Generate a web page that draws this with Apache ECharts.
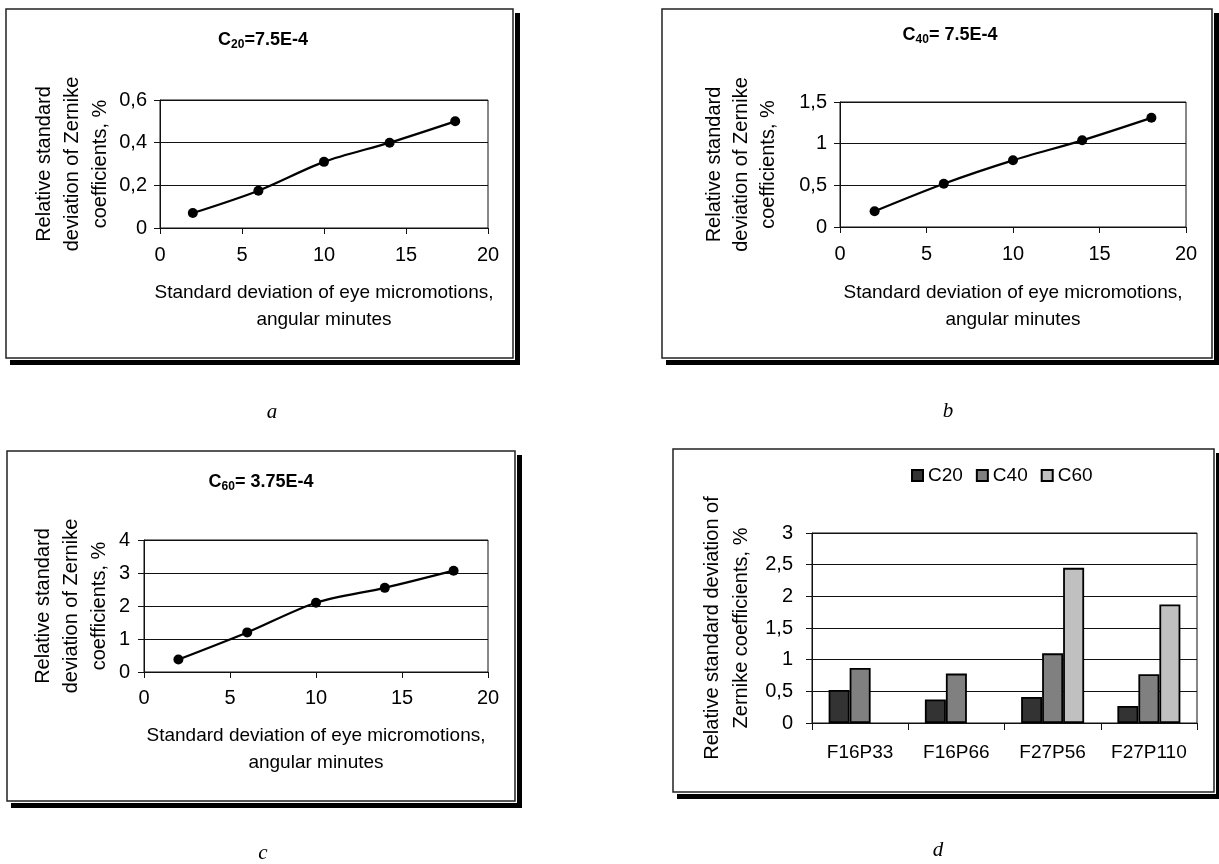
<!DOCTYPE html>
<html>
<head>
<meta charset="utf-8">
<script src="https://cdn.jsdelivr.net/npm/echarts@6/dist/echarts.min.js"></script>
<style>
  html, body { margin: 0; padding: 0; background: #fff; }
  #chart { width: 1219px; height: 864px; }
</style>
</head>
<body>
<div id="chart"></div>
<script>
// std of eye micromotions, angular minutes
var micromotions = [2, 6, 10, 14, 18];
// relative std of Zernike coefficients, %
var c20Dev = [0.07, 0.175, 0.31, 0.40, 0.50];
var c40Dev = [0.19, 0.52, 0.80, 1.04, 1.31];
var c60Dev = [0.38, 1.20, 2.10, 2.55, 3.07];

// panel d
var configs = ['F16P33', 'F16P66', 'F27P56', 'F27P110'];
var barC20 = [0.52, 0.37, 0.41, 0.27];
var barC40 = [0.87, 0.78, 1.10, 0.77];
var barC60 = ['-', '-', 2.45, 1.87];

var FONT = '"Liberation Sans", Arial, sans-serif';
var INK = '#111';

function comma(v) {
  return String(+v.toFixed(2)).replace('.', ',');
}

function pairs(xs, ys) {
  return xs.map(function (x, i) { return [x, ys[i]]; });
}

// framed panel with the heavy drop shadow
function frame(x, y, w, h) {
  return [
    { type: 'rect', z: -3, shape: { x: x + 4, y: y + 4, width: w + 3, height: h + 3 }, style: { fill: '#000' } },
    { type: 'rect', z: -2, shape: { x: x, y: y, width: w + 2, height: h + 2 }, style: { fill: '#fff' } },
    { type: 'rect', z: -1, shape: { x: x, y: y, width: w, height: h }, style: { fill: '#fff', stroke: '#222', lineWidth: 1.5 } }
  ];
}

function panelLetter(ch, x, y) {
  return {
    type: 'text', x: x, y: y,
    style: { text: ch, font: 'italic 21px "Liberation Serif", "Times New Roman", serif', fill: '#000', textAlign: 'center', textVerticalAlign: 'middle' }
  };
}

function gridAt(left, top, width, height) {
  return {
    left: left, top: top, width: width, height: height,
    show: true, borderColor: INK, borderWidth: 1, backgroundColor: 'transparent',
    containLabel: false, outerBoundsMode: 'none'
  };
}

function xValue(gi, gap, margin) {
  return {
    gridIndex: gi, type: 'value', min: 0, max: 20, interval: 5,
    name: 'Standard deviation of eye micromotions,\nangular minutes',
    nameLocation: 'middle', nameGap: gap,
    nameTextStyle: { fontFamily: FONT, fontSize: 19, color: '#000', lineHeight: 27 },
    axisLine: { show: true, onZero: false, lineStyle: { color: INK, width: 1 } },
    axisTick: { show: true, inside: false, length: 6, lineStyle: { color: INK } },
    axisLabel: { fontFamily: FONT, fontSize: 20, color: '#000', margin: margin },
    splitLine: { show: false }
  };
}

function yValue(gi, max, step, gap, margin, name, lh) {
  return {
    gridIndex: gi, type: 'value', min: 0, max: max, interval: step,
    name: name, nameLocation: 'middle', nameRotate: 90, nameGap: gap,
    nameTextStyle: { fontFamily: FONT, fontSize: 20, color: '#000', lineHeight: lh },
    axisLine: { show: true, lineStyle: { color: INK, width: 1 } },
    axisTick: { show: true, inside: false, length: 6, lineStyle: { color: INK } },
    axisLabel: { fontFamily: FONT, fontSize: 20, color: '#000', margin: margin, formatter: comma },
    splitLine: { show: true, lineStyle: { color: INK, width: 1 } }
  };
}

function curve(gi, ys) {
  return {
    type: 'line', xAxisIndex: gi, yAxisIndex: gi,
    data: pairs(micromotions, ys),
    smooth: 0.3, symbol: 'circle', symbolSize: 10, showSymbol: true,
    lineStyle: { color: '#000', width: 2.2 },
    itemStyle: { color: '#000' },
    animation: false
  };
}

function bars(name, ys, color) {
  return {
    name: name, type: 'bar', xAxisIndex: 3, yAxisIndex: 3,
    data: ys, barWidth: 21, barGap: '0%',
    itemStyle: { color: color, borderColor: '#000', borderWidth: 1.8 },
    animation: false
  };
}

function titleAt(cx, top, sub, rest) {
  return {
    text: '{m|C}{s|' + sub + '}{m|' + rest + '}',
    left: cx, top: top, textAlign: 'center',
    textStyle: {
      rich: {
        m: { fontFamily: FONT, fontSize: 18, fontWeight: 'bold', color: '#000' },
        s: { fontFamily: FONT, fontSize: 12, fontWeight: 'bold', color: '#000', padding: [10, 0, 0, 0] }
      }
    }
  };
}

var yName3 = 'Relative standard\ndeviation of Zernike\ncoefficients, %';

var chart = echarts.init(document.getElementById('chart'), null, { renderer: 'canvas' });
chart.setOption({
  backgroundColor: '#fff',
  animation: false,
  title: [
    titleAt(258, 24, '20', '=7.5E-4'),
    titleAt(945, 19, '40', '= 7.5E-4'),
    titleAt(256, 466, '60', '= 3.75E-4')
  ],
  legend: {
    data: ['C20', 'C40', 'C60'],
    left: 906, top: 461,
    icon: 'rect', itemWidth: 11, itemHeight: 11, itemGap: 13,
    textStyle: { fontFamily: FONT, fontSize: 19, color: '#000' }
  },
  grid: [
    gridAt(160, 100, 328, 128),
    gridAt(840, 102, 346, 125),
    gridAt(144, 540, 344, 132),
    gridAt(812, 533, 385, 190)
  ],
  xAxis: [
    xValue(0, 51, 17),
    xValue(1, 52, 17),
    xValue(2, 50, 16),
    {
      gridIndex: 3, type: 'category', data: configs, boundaryGap: true,
      axisLine: { show: true, lineStyle: { color: INK, width: 1 } },
      axisTick: { show: true, inside: false, length: 7, alignWithLabel: false, lineStyle: { color: INK } },
      axisLabel: { fontFamily: FONT, fontSize: 19, color: '#000', margin: 20, interval: 0 },
      splitLine: { show: false }
    }
  ],
  yAxis: [
    yValue(0, 0.6, 0.2, 46, 13, yName3, 28),
    yValue(1, 1.5, 0.5, 58, 13, yName3, 27),
    yValue(2, 4, 1, 31, 14, yName3, 28),
    yValue(3, 3, 0.5, 56, 19, 'Relative standard deviation of\nZernike coefficients, %', 29)
  ],
  series: [
    curve(0, c20Dev),
    curve(1, c40Dev),
    curve(2, c60Dev),
    bars('C20', barC20, '#333333'),
    bars('C40', barC40, '#808080'),
    bars('C60', barC60, '#c0c0c0')
  ],
  graphic: {
    elements: [].concat(
      frame(6, 9, 507, 349),
      frame(662, 9, 550, 349),
      frame(7, 451, 508, 350),
      frame(673, 449, 541, 343),
      [
        panelLetter('a', 272, 412),
        panelLetter('b', 948, 411),
        panelLetter('c', 263, 853),
        panelLetter('d', 938, 850)
      ]
    )
  }
});
</script>
</body>
</html>
